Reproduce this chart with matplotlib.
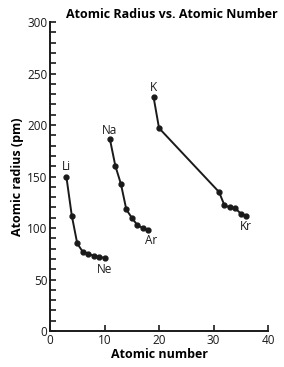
import matplotlib.pyplot as plt
from matplotlib.ticker import MultipleLocator

# period 2, 3, 4 main-group elements
p2_z = [3, 4, 5, 6, 7, 8, 9, 10]
p2_r = [150, 112, 85, 77, 75, 73, 72, 71]
p3_z = [11, 12, 13, 14, 15, 16, 17, 18]
p3_r = [186, 160, 143, 118, 110, 103, 100, 98]
p4_z = [19, 20, 31, 32, 33, 34, 35, 36]
p4_r = [227, 197, 135, 122, 120, 119, 114, 112]

labels = ['Li', 'Ne', 'Na', 'Ar', 'K', 'Kr']
label_x = [3, 10, 11, 18.5, 19, 36]
label_y = [160, 60, 195, 88, 236, 101]

plt.rcParams['font.family'] = ['Open Sans', 'DejaVu Sans']

fig = plt.figure(figsize=(2.84, 3.67), dpi=100)
ax = fig.add_axes([0.176, 0.098, 0.768, 0.842])

for z, r in [(p2_z, p2_r), (p3_z, p3_r), (p4_z, p4_r)]:
    ax.plot(z, r, '-o', color='#1a1a1a', linewidth=1.4, markersize=3.5)

for t, x, y in zip(labels, label_x, label_y):
    ax.text(x, y, t, fontsize=8.5, ha='center', va='center', color='#1a1a1a')

ax.set_xlim(0, 40)
ax.set_ylim(0, 300)
ax.set_xticks([0, 10, 20, 30, 40])
ax.yaxis.set_major_locator(MultipleLocator(50))
ax.yaxis.set_minor_locator(MultipleLocator(10))
ax.tick_params(axis='both', which='both', direction='in', length=4, width=1.2,
               labelsize=8.5, pad=2, colors='#1a1a1a')
for s in ['top', 'right']:
    ax.spines[s].set_visible(False)
for s in ['left', 'bottom']:
    ax.spines[s].set_linewidth(1.4)
    ax.spines[s].set_color('#1a1a1a')

ax.set_xlabel('Atomic number', fontsize=9, fontweight='bold', labelpad=1)
ax.set_ylabel('Atomic radius (pm)', fontsize=9, fontweight='bold', labelpad=2)
ax.set_title('Atomic Radius vs. Atomic Number', fontsize=9, fontweight='bold',
             x=0.56, pad=3)

fig.savefig('out.png', dpi=100)
